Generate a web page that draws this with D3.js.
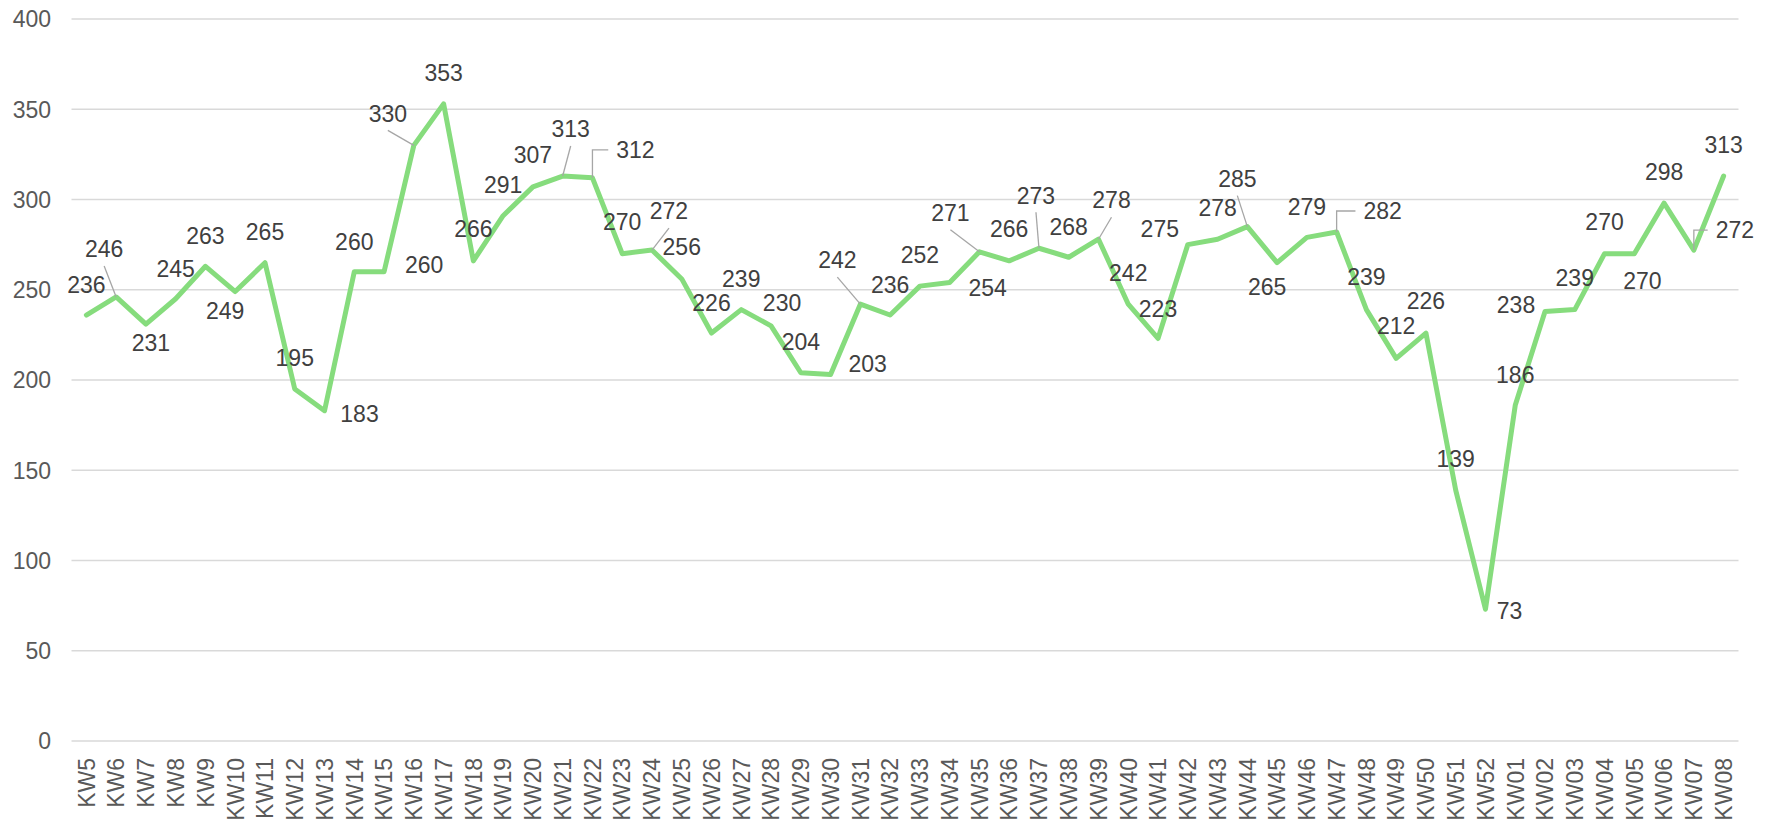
<!DOCTYPE html>
<html lang="de">

<head>
  <meta charset="UTF-8">
  <title>KW Verlauf</title>
  <script src="https://d3js.org/d3.v7.min.js"></script>
  <style>
    body {
      margin: 0;
      background: #fff;
    }

    svg text {
      font-family: "Liberation Sans", Arial, sans-serif;
    }

    .tick-label {
      font-size: 23px;
      fill: #595959;
    }

    .value-label {
      font-size: 23px;
      fill: #404040;
    }
  </style>
</head>

<body>

  <svg id="chart" width="1773" height="819"></svg>

  <script>

    // Data
    var weeks = ["KW5", "KW6", "KW7", "KW8", "KW9", "KW10", "KW11", "KW12", "KW13", "KW14",
      "KW15", "KW16", "KW17", "KW18", "KW19", "KW20", "KW21", "KW22", "KW23", "KW24",
      "KW25", "KW26", "KW27", "KW28", "KW29", "KW30", "KW31", "KW32", "KW33", "KW34",
      "KW35", "KW36", "KW37", "KW38", "KW39", "KW40", "KW41", "KW42", "KW43", "KW44",
      "KW45", "KW46", "KW47", "KW48", "KW49", "KW50", "KW51", "KW52", "KW01", "KW02",
      "KW03", "KW04", "KW05", "KW06", "KW07", "KW08"];

    var counts = [236, 246, 231, 245, 263, 249, 265, 195, 183, 260,
      260, 330, 353, 266, 291, 307, 313, 312, 270, 272,
      256, 226, 239, 230, 204, 203, 242, 236, 252, 254,
      271, 266, 273, 268, 278, 242, 223, 275, 278, 285,
      265, 279, 282, 239, 212, 226, 139, 73, 186, 238,
      239, 270, 270, 298, 272, 313];

    var yTicks = [0, 50, 100, 150, 200, 250, 300, 350, 400];

    // label placement relative to its point: [dx, dy, leader]
    var labelOffsets = [
      [0, -30], [-12, -48, "line"], [5, 19], [0, -30], [0, -31], [-10, 19], [0, -31], [0, -31], [35, 3], [0, -30],
      [40, -7], [-26, -32, "line"], [0, -31], [0, -32], [0, -31], [0, -32], [8, -47, "line"], [43, -28, "elbow"], [0, -32], [17, -39, "line"],
      [0, -32], [0, -30], [0, -31], [11, -23], [0, -31], [37, -11], [-23, -44, "line"], [0, -30], [0, -31], [38, 5],
      [-29, -39, "line"], [0, -32], [-3, -53, "line"], [0, -31], [13, -39, "line"], [0, -31], [0, -30], [-28, -16], [0, -31], [-10, -48, "line"],
      [-10, 24], [0, -31], [46, -21, "elbow"], [0, -33], [0, -33], [0, -32], [0, -31], [24, 1], [0, -31], [-29, -7],
      [0, -32], [0, -32], [8, 27], [0, -31], [41, -20, "elbow"], [0, -31]
    ];

    var svg = d3.select("#chart");

    var plotLeft = 71.5, plotRight = 1738.5, plotTop = 19, plotBottom = 741;

    var x = d3.scaleBand()
      .domain(weeks)
      .range([plotLeft, plotRight])
      .padding(0);

    var y = d3.scaleLinear()
      .domain([0, 400])
      .range([plotBottom, plotTop]);

    var cx = function (w) { return x(w) + x.bandwidth() / 2; };

    var points = weeks.map(function (w, i) {
      return { week: w, value: counts[i], off: labelOffsets[i] };
    });

    // gridlines
    svg.append("g")
      .selectAll("line")
      .data(yTicks)
      .enter().append("line")
      .attr("x1", plotLeft)
      .attr("x2", plotRight)
      .attr("y1", d => y(d))
      .attr("y2", d => y(d))
      .attr("stroke", "#d9d9d9")
      .attr("stroke-width", 1.5);

    // y labels
    svg.append("g")
      .selectAll("text")
      .data(yTicks)
      .enter().append("text")
      .attr("class", "tick-label")
      .attr("x", 51)
      .attr("y", d => y(d))
      .attr("dy", "0.36em")
      .attr("text-anchor", "end")
      .text(d => d);

    // x labels (rotated)
    svg.append("g")
      .selectAll("text")
      .data(weeks)
      .enter().append("text")
      .attr("class", "tick-label")
      .attr("transform", d => "translate(" + cx(d) + "," + (plotBottom + 17) + ") rotate(-90)")
      .attr("dy", "0.36em")
      .attr("text-anchor", "end")
      .text(d => d);

    // the line
    var line = d3.line()
      .x(d => cx(d.week))
      .y(d => y(d.value));

    svg.append("path")
      .datum(points)
      .attr("d", line)
      .attr("fill", "none")
      .attr("stroke", "#86dc7d")
      .attr("stroke-width", 5)
      .attr("stroke-linejoin", "round")
      .attr("stroke-linecap", "round");

    // value labels
    var labels = svg.append("g")
      .selectAll("text")
      .data(points)
      .enter().append("text")
      .attr("class", "value-label")
      .attr("x", d => cx(d.week) + d.off[0])
      .attr("y", d => y(d.value) + d.off[1])
      .attr("dy", "0.36em")
      .attr("text-anchor", "middle")
      .text(d => d.value);

    // leader lines
    var leaders = svg.append("g")
      .attr("fill", "none")
      .attr("stroke", "#a6a6a6")
      .attr("stroke-width", 1.3);

    labels.each(function (d) {
      if (!d.off[2]) return;
      var px = cx(d.week), py = y(d.value);
      var lx = px + d.off[0], ly = py + d.off[1];
      var half = this.getComputedTextLength() / 2;
      var p = d3.path();
      if (d.off[2] == "line") {
        p.moveTo(lx, ly + 17);
        p.lineTo(px, py);
      } else {
        p.moveTo(px, py);
        p.lineTo(px, ly);
        p.lineTo(lx - half - 8, ly);
      }
      leaders.append("path").attr("d", p.toString());
    });

  </script>

</body>

</html>
